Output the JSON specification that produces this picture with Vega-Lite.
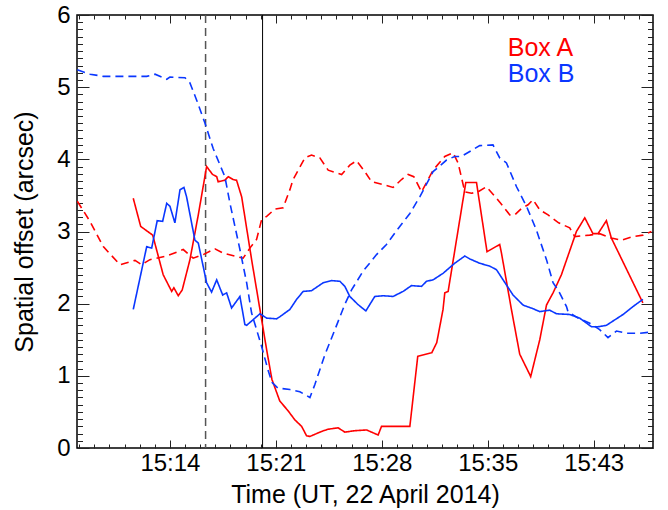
{
  "$schema": "https://vega.github.io/schema/vega-lite/v6.json",
  "width": 576,
  "height": 433,
  "autosize": {"type": "none"},
  "padding": {"left": 77, "top": 15, "right": 15, "bottom": 62},
  "background": "white",
  "config": {
    "view": {"stroke": "#000000", "strokeWidth": 1.5},
    "font": "Liberation Sans",
    "axis": {
      "domain": false,
      "ticks": false,
      "gridColor": "#222222",
      "gridOpacity": 1,
      "gridWidth": 1,
      "labelColor": "#000",
      "titleColor": "#000",
      "labelFont": "Liberation Sans",
      "titleFont": "Liberation Sans",
      "labelFontSize": 24,
      "titleFontSize": 25,
      "titleFontWeight": "normal",
      "labelOverlap": false,
      "labelFlush": false,
      "labelBound": false
    }
  },
  "data": {"values": [
    {"box":"Box A","trace":"2","t":7.66,"v":3.42},{"box":"Box A","trace":"2","t":8.53,"v":3.14},{"box":"Box A","trace":"2","t":9.44,"v":2.79},{"box":"Box A","trace":"2","t":10.58,"v":2.54},{"box":"Box A","trace":"2","t":11.61,"v":2.60},{"box":"Box A","trace":"2","t":12.07,"v":2.54},{"box":"Box A","trace":"2","t":12.63,"v":2.61},{"box":"Box A","trace":"2","t":13.78,"v":2.66},{"box":"Box A","trace":"2","t":14.91,"v":2.75},{"box":"Box A","trace":"2","t":15.59,"v":2.63},{"box":"Box A","trace":"2","t":16.28,"v":2.68},{"box":"Box A","trace":"2","t":17.08,"v":2.76},{"box":"Box A","trace":"2","t":17.65,"v":2.70},{"box":"Box A","trace":"2","t":19.01,"v":2.63},{"box":"Box A","trace":"2","t":19.47,"v":2.77},{"box":"Box A","trace":"2","t":19.93,"v":2.89},{"box":"Box A","trace":"2","t":20.27,"v":3.16},{"box":"Box A","trace":"2","t":20.62,"v":3.21},{"box":"Box A","trace":"2","t":21.18,"v":3.31},{"box":"Box A","trace":"2","t":21.75,"v":3.33},{"box":"Box A","trace":"2","t":22.21,"v":3.58},{"box":"Box A","trace":"2","t":22.43,"v":3.72},{"box":"Box A","trace":"2","t":23.24,"v":4.02},{"box":"Box A","trace":"2","t":23.69,"v":4.06},{"box":"Box A","trace":"2","t":24.26,"v":4.02},{"box":"Box A","trace":"2","t":24.83,"v":3.85},{"box":"Box A","trace":"2","t":25.29,"v":3.82},{"box":"Box A","trace":"2","t":25.75,"v":3.79},{"box":"Box A","trace":"2","t":26.31,"v":3.92},{"box":"Box A","trace":"2","t":26.77,"v":3.98},{"box":"Box A","trace":"2","t":27.34,"v":3.83},{"box":"Box A","trace":"2","t":27.80,"v":3.69},{"box":"Box A","trace":"2","t":28.59,"v":3.65},{"box":"Box A","trace":"2","t":29.27,"v":3.61},{"box":"Box A","trace":"2","t":29.85,"v":3.72},{"box":"Box A","trace":"2","t":30.30,"v":3.79},{"box":"Box A","trace":"2","t":30.69,"v":3.76},{"box":"Box A","trace":"2","t":31.22,"v":3.55},{"box":"Box A","trace":"2","t":32.01,"v":3.85},{"box":"Box A","trace":"2","t":32.81,"v":4.04},{"box":"Box A","trace":"2","t":33.38,"v":4.09},{"box":"Box A","trace":"2","t":33.72,"v":3.95},{"box":"Box A","trace":"2","t":34.18,"v":3.55},{"box":"Box A","trace":"2","t":34.64,"v":3.53},{"box":"Box A","trace":"2","t":35.09,"v":3.55},{"box":"Box A","trace":"2","t":35.66,"v":3.62},{"box":"Box A","trace":"2","t":36.35,"v":3.46},{"box":"Box A","trace":"2","t":36.80,"v":3.35},{"box":"Box A","trace":"2","t":37.26,"v":3.23},{"box":"Box A","trace":"2","t":37.60,"v":3.23},{"box":"Box A","trace":"2","t":38.06,"v":3.32},{"box":"Box A","trace":"2","t":38.51,"v":3.37},{"box":"Box A","trace":"2","t":38.85,"v":3.44},{"box":"Box A","trace":"2","t":39.31,"v":3.30},{"box":"Box A","trace":"2","t":39.88,"v":3.23},{"box":"Box A","trace":"2","t":40.60,"v":3.12},{"box":"Box A","trace":"2","t":41.36,"v":3.05},{"box":"Box A","trace":"2","t":41.70,"v":2.93},{"box":"Box A","trace":"2","t":42.73,"v":2.95},{"box":"Box A","trace":"2","t":43.41,"v":2.97},{"box":"Box A","trace":"2","t":44.21,"v":2.91},{"box":"Box A","trace":"2","t":44.90,"v":2.88},{"box":"Box A","trace":"2","t":45.69,"v":2.93},{"box":"Box A","trace":"2","t":46.37,"v":2.95},{"box":"Box A","trace":"2","t":46.95,"v":3.00},
    {"box":"Box A","trace":"1","t":11.49,"v":3.46},{"box":"Box A","trace":"1","t":12.00,"v":3.07},{"box":"Box A","trace":"1","t":12.82,"v":2.95},{"box":"Box A","trace":"1","t":13.54,"v":2.40},{"box":"Box A","trace":"1","t":14.12,"v":2.17},{"box":"Box A","trace":"1","t":14.27,"v":2.22},{"box":"Box A","trace":"1","t":14.57,"v":2.11},{"box":"Box A","trace":"1","t":14.84,"v":2.19},{"box":"Box A","trace":"1","t":15.37,"v":2.61},{"box":"Box A","trace":"1","t":15.94,"v":3.23},{"box":"Box A","trace":"1","t":16.51,"v":3.90},{"box":"Box A","trace":"1","t":16.92,"v":3.79},{"box":"Box A","trace":"1","t":17.20,"v":3.76},{"box":"Box A","trace":"1","t":17.30,"v":3.69},{"box":"Box A","trace":"1","t":17.76,"v":3.71},{"box":"Box A","trace":"1","t":17.99,"v":3.76},{"box":"Box A","trace":"1","t":18.33,"v":3.72},{"box":"Box A","trace":"1","t":18.56,"v":3.71},{"box":"Box A","trace":"1","t":18.91,"v":3.48},{"box":"Box A","trace":"1","t":19.59,"v":2.61},{"box":"Box A","trace":"1","t":20.16,"v":1.92},{"box":"Box A","trace":"1","t":20.62,"v":1.36},{"box":"Box A","trace":"1","t":20.98,"v":0.95},{"box":"Box A","trace":"1","t":21.52,"v":0.65},{"box":"Box A","trace":"1","t":22.07,"v":0.52},{"box":"Box A","trace":"1","t":22.55,"v":0.39},{"box":"Box A","trace":"1","t":23.01,"v":0.30},{"box":"Box A","trace":"1","t":23.35,"v":0.17},{"box":"Box A","trace":"1","t":23.58,"v":0.16},{"box":"Box A","trace":"1","t":24.38,"v":0.23},{"box":"Box A","trace":"1","t":24.83,"v":0.26},{"box":"Box A","trace":"1","t":25.51,"v":0.28},{"box":"Box A","trace":"1","t":25.97,"v":0.22},{"box":"Box A","trace":"1","t":26.66,"v":0.24},{"box":"Box A","trace":"1","t":27.46,"v":0.25},{"box":"Box A","trace":"1","t":28.25,"v":0.18},{"box":"Box A","trace":"1","t":28.48,"v":0.30},{"box":"Box A","trace":"1","t":28.82,"v":0.30},{"box":"Box A","trace":"1","t":30.42,"v":0.30},{"box":"Box A","trace":"1","t":30.96,"v":1.27},{"box":"Box A","trace":"1","t":31.92,"v":1.32},{"box":"Box A","trace":"1","t":32.26,"v":1.46},{"box":"Box A","trace":"1","t":32.69,"v":1.92},{"box":"Box A","trace":"1","t":32.81,"v":2.15},{"box":"Box A","trace":"1","t":33.04,"v":2.17},{"box":"Box A","trace":"1","t":34.25,"v":3.68},{"box":"Box A","trace":"1","t":34.98,"v":3.68},{"box":"Box A","trace":"1","t":35.70,"v":2.72},{"box":"Box A","trace":"1","t":36.57,"v":2.82},{"box":"Box A","trace":"1","t":36.69,"v":2.70},{"box":"Box A","trace":"1","t":37.37,"v":1.92},{"box":"Box A","trace":"1","t":37.94,"v":1.30},{"box":"Box A","trace":"1","t":38.69,"v":0.99},{"box":"Box A","trace":"1","t":39.31,"v":1.50},{"box":"Box A","trace":"1","t":39.77,"v":1.98},{"box":"Box A","trace":"1","t":40.22,"v":2.15},{"box":"Box A","trace":"1","t":40.79,"v":2.40},{"box":"Box A","trace":"1","t":41.82,"v":3.00},{"box":"Box A","trace":"1","t":42.39,"v":3.19},{"box":"Box A","trace":"1","t":42.95,"v":2.97},{"box":"Box A","trace":"1","t":43.30,"v":2.97},{"box":"Box A","trace":"1","t":43.87,"v":3.15},{"box":"Box A","trace":"1","t":44.21,"v":2.91},{"box":"Box A","trace":"1","t":46.37,"v":2.01},
    {"box":"Box B","trace":"2","t":7.66,"v":5.24},{"box":"Box B","trace":"2","t":8.53,"v":5.18},{"box":"Box B","trace":"2","t":9.44,"v":5.15},{"box":"Box B","trace":"2","t":12.41,"v":5.15},{"box":"Box B","trace":"2","t":12.98,"v":5.18},{"box":"Box B","trace":"2","t":13.78,"v":5.11},{"box":"Box B","trace":"2","t":14.00,"v":5.14},{"box":"Box B","trace":"2","t":15.03,"v":5.13},{"box":"Box B","trace":"2","t":15.37,"v":5.06},{"box":"Box B","trace":"2","t":15.83,"v":4.82},{"box":"Box B","trace":"2","t":16.40,"v":4.50},{"box":"Box B","trace":"2","t":16.96,"v":4.15},{"box":"Box B","trace":"2","t":17.76,"v":3.76},{"box":"Box B","trace":"2","t":18.11,"v":3.39},{"box":"Box B","trace":"2","t":18.79,"v":2.75},{"box":"Box B","trace":"2","t":19.25,"v":2.29},{"box":"Box B","trace":"2","t":19.59,"v":1.87},{"box":"Box B","trace":"2","t":20.27,"v":1.41},{"box":"Box B","trace":"2","t":20.70,"v":1.09},{"box":"Box B","trace":"2","t":20.98,"v":0.91},{"box":"Box B","trace":"2","t":21.39,"v":0.83},{"box":"Box B","trace":"2","t":22.21,"v":0.81},{"box":"Box B","trace":"2","t":22.89,"v":0.78},{"box":"Box B","trace":"2","t":23.58,"v":0.70},{"box":"Box B","trace":"2","t":23.92,"v":0.88},{"box":"Box B","trace":"2","t":24.60,"v":1.29},{"box":"Box B","trace":"2","t":25.29,"v":1.64},{"box":"Box B","trace":"2","t":25.97,"v":1.99},{"box":"Box B","trace":"2","t":26.43,"v":2.19},{"box":"Box B","trace":"2","t":27.22,"v":2.45},{"box":"Box B","trace":"2","t":28.14,"v":2.68},{"box":"Box B","trace":"2","t":28.82,"v":2.82},{"box":"Box B","trace":"2","t":29.73,"v":3.07},{"box":"Box B","trace":"2","t":30.42,"v":3.25},{"box":"Box B","trace":"2","t":31.10,"v":3.48},{"box":"Box B","trace":"2","t":32.01,"v":3.83},{"box":"Box B","trace":"2","t":32.93,"v":3.99},{"box":"Box B","trace":"2","t":33.49,"v":4.04},{"box":"Box B","trace":"2","t":33.95,"v":4.04},{"box":"Box B","trace":"2","t":35.20,"v":4.19},{"box":"Box B","trace":"2","t":36.11,"v":4.20},{"box":"Box B","trace":"2","t":36.57,"v":4.02},{"box":"Box B","trace":"2","t":37.03,"v":3.95},{"box":"Box B","trace":"2","t":37.72,"v":3.62},{"box":"Box B","trace":"2","t":38.40,"v":3.35},{"box":"Box B","trace":"2","t":39.08,"v":3.02},{"box":"Box B","trace":"2","t":39.77,"v":2.61},{"box":"Box B","trace":"2","t":40.22,"v":2.29},{"box":"Box B","trace":"2","t":40.56,"v":2.19},{"box":"Box B","trace":"2","t":40.79,"v":2.10},{"box":"Box B","trace":"2","t":41.14,"v":1.96},{"box":"Box B","trace":"2","t":41.24,"v":1.89},{"box":"Box B","trace":"2","t":41.93,"v":1.80},{"box":"Box B","trace":"2","t":42.73,"v":1.73},{"box":"Box B","trace":"2","t":43.41,"v":1.64},{"box":"Box B","trace":"2","t":43.98,"v":1.53},{"box":"Box B","trace":"2","t":44.56,"v":1.62},{"box":"Box B","trace":"2","t":45.24,"v":1.59},{"box":"Box B","trace":"2","t":46.15,"v":1.59},{"box":"Box B","trace":"2","t":47.06,"v":1.61},
    {"box":"Box B","trace":"1","t":11.49,"v":1.92},{"box":"Box B","trace":"1","t":12.41,"v":2.79},{"box":"Box B","trace":"1","t":12.75,"v":2.77},{"box":"Box B","trace":"1","t":13.13,"v":3.15},{"box":"Box B","trace":"1","t":13.50,"v":3.14},{"box":"Box B","trace":"1","t":13.78,"v":3.39},{"box":"Box B","trace":"1","t":14.00,"v":3.35},{"box":"Box B","trace":"1","t":14.34,"v":3.12},{"box":"Box B","trace":"1","t":14.69,"v":3.58},{"box":"Box B","trace":"1","t":14.96,"v":3.61},{"box":"Box B","trace":"1","t":15.14,"v":3.48},{"box":"Box B","trace":"1","t":15.71,"v":2.88},{"box":"Box B","trace":"1","t":15.94,"v":2.84},{"box":"Box B","trace":"1","t":16.51,"v":2.29},{"box":"Box B","trace":"1","t":16.85,"v":2.16},{"box":"Box B","trace":"1","t":17.20,"v":2.33},{"box":"Box B","trace":"1","t":17.61,"v":2.12},{"box":"Box B","trace":"1","t":17.88,"v":2.15},{"box":"Box B","trace":"1","t":18.22,"v":1.94},{"box":"Box B","trace":"1","t":18.79,"v":2.10},{"box":"Box B","trace":"1","t":19.13,"v":1.71},{"box":"Box B","trace":"1","t":19.25,"v":1.70},{"box":"Box B","trace":"1","t":20.16,"v":1.86},{"box":"Box B","trace":"1","t":20.62,"v":1.80},{"box":"Box B","trace":"1","t":21.30,"v":1.79},{"box":"Box B","trace":"1","t":21.53,"v":1.82},{"box":"Box B","trace":"1","t":22.21,"v":1.92},{"box":"Box B","trace":"1","t":22.67,"v":2.06},{"box":"Box B","trace":"1","t":23.12,"v":2.17},{"box":"Box B","trace":"1","t":23.69,"v":2.18},{"box":"Box B","trace":"1","t":24.49,"v":2.29},{"box":"Box B","trace":"1","t":25.06,"v":2.32},{"box":"Box B","trace":"1","t":25.63,"v":2.31},{"box":"Box B","trace":"1","t":25.97,"v":2.24},{"box":"Box B","trace":"1","t":26.31,"v":2.10},{"box":"Box B","trace":"1","t":26.86,"v":1.99},{"box":"Box B","trace":"1","t":27.41,"v":1.90},{"box":"Box B","trace":"1","t":28.02,"v":2.10},{"box":"Box B","trace":"1","t":28.59,"v":2.11},{"box":"Box B","trace":"1","t":29.27,"v":2.10},{"box":"Box B","trace":"1","t":29.96,"v":2.17},{"box":"Box B","trace":"1","t":30.53,"v":2.25},{"box":"Box B","trace":"1","t":31.22,"v":2.24},{"box":"Box B","trace":"1","t":31.56,"v":2.31},{"box":"Box B","trace":"1","t":32.01,"v":2.33},{"box":"Box B","trace":"1","t":32.69,"v":2.42},{"box":"Box B","trace":"1","t":33.49,"v":2.56},{"box":"Box B","trace":"1","t":34.18,"v":2.66},{"box":"Box B","trace":"1","t":34.52,"v":2.62},{"box":"Box B","trace":"1","t":35.20,"v":2.56},{"box":"Box B","trace":"1","t":35.89,"v":2.52},{"box":"Box B","trace":"1","t":36.35,"v":2.47},{"box":"Box B","trace":"1","t":36.80,"v":2.33},{"box":"Box B","trace":"1","t":37.48,"v":2.12},{"box":"Box B","trace":"1","t":38.17,"v":1.98},{"box":"Box B","trace":"1","t":38.85,"v":1.93},{"box":"Box B","trace":"1","t":39.31,"v":1.89},{"box":"Box B","trace":"1","t":39.99,"v":1.91},{"box":"Box B","trace":"1","t":40.45,"v":1.86},{"box":"Box B","trace":"1","t":41.36,"v":1.85},{"box":"Box B","trace":"1","t":42.04,"v":1.80},{"box":"Box B","trace":"1","t":42.85,"v":1.68},{"box":"Box B","trace":"1","t":43.30,"v":1.68},{"box":"Box B","trace":"1","t":43.87,"v":1.70},{"box":"Box B","trace":"1","t":45.01,"v":1.85},{"box":"Box B","trace":"1","t":45.69,"v":1.96},{"box":"Box B","trace":"1","t":46.37,"v":2.06}
  ]},
  "layer": [
    {
      "data": {"values": [{"t": 16.44}]},
      "mark": {"type": "rule", "color": "#555555", "strokeWidth": 1.5, "strokeDash": [8, 5]},
      "encoding": {
        "x": {"field": "t", "type": "quantitative",
          "scale": {"domain": [7.64, 47.06], "nice": false, "zero": false},
          "axis": null}
      }
    },
    {
      "data": {"values": [{"t": 20.34}]},
      "mark": {"type": "rule", "color": "#000000", "strokeWidth": 1},
      "encoding": {
        "x": {"field": "t", "type": "quantitative", "axis": null}
      }
    },
    {
      "mark": {"type": "line", "strokeWidth": 1.6, "clip": true},
      "encoding": {
        "x": {"field": "t", "type": "quantitative",
          "axis": {
            "orient": "bottom",
            "values": [14, 21.25, 28.5, 35.75, 43],
            "labelExpr": "'15:' + floor(datum.value)",
            "grid": true,
            "gridDash": [8, 417, 8, 100],
            "labelPadding": 3.5,
            "title": "Time (UT, 22 April 2014)",
            "titlePadding": 7
          }
        },
        "y": {"field": "v", "type": "quantitative",
          "scale": {"domain": [0, 6], "nice": false, "zero": false},
          "axis": {
            "orient": "left",
            "values": [0, 1, 2, 3, 4, 5, 6],
            "format": "d",
            "grid": true,
            "gridDash": [12, 552, 12, 100],
            "labelPadding": 7,
            "title": "Spatial offset (arcsec)",
            "titlePadding": 19
          }
        },
        "color": {"field": "box", "type": "nominal",
          "scale": {"domain": ["Box A", "Box B"], "range": ["#ff0000", "#0a37ff"]},
          "legend": null},
        "strokeDash": {"field": "trace", "type": "nominal",
          "scale": {"domain": ["1", "2"], "range": [[1, 0], [8, 5]]},
          "legend": null},
        "detail": {"field": "box"}
      }
    },
    {
      "data": {"values": [{}]},
      "mark": {"type": "text", "text": "Box A", "color": "#ff0000", "fontSize": 25, "align": "left", "baseline": "alphabetic", "font": "Liberation Sans"},
      "encoding": {
        "x": {"datum": 37.12, "type": "quantitative",
          "axis": {
            "orient": "bottom", "labels": false, "title": null,
            "values": [7.7857,8.8214,9.8571,10.8929,11.9286,12.9643,15.0357,16.0714,17.1071,18.1429,19.1786,20.2143,22.2857,23.3214,24.3571,25.3929,26.4286,27.4643,29.5357,30.5714,31.6071,32.6429,33.6786,34.7143,36.7857,37.8214,38.8571,39.8929,40.9286,41.9643,44.0357,45.0714,46.1071],
            "grid": true,
            "gridDash": [4, 425, 4, 100]
          }
        },
        "y": {"datum": 5.43, "type": "quantitative",
          "axis": {
            "orient": "left", "labels": false, "title": null,
            "values": [0.1,0.2,0.3,0.4,0.5,0.6,0.7,0.8,0.9,1.1,1.2,1.3,1.4,1.5,1.6,1.7,1.8,1.9,2.1,2.2,2.3,2.4,2.5,2.6,2.7,2.8,2.9,3.1,3.2,3.3,3.4,3.5,3.6,3.7,3.8,3.9,4.1,4.2,4.3,4.4,4.5,4.6,4.7,4.8,4.9,5.1,5.2,5.3,5.4,5.5,5.6,5.7,5.8,5.9],
            "grid": true,
            "gridDash": [5.5, 565, 5.5, 100]
          }
        }
      }
    },
    {
      "data": {"values": [{}]},
      "mark": {"type": "text", "text": "Box B", "color": "#0a37ff", "fontSize": 25, "align": "left", "baseline": "alphabetic", "font": "Liberation Sans"},
      "encoding": {
        "x": {"datum": 37.12, "type": "quantitative", "axis": null},
        "y": {"datum": 5.07, "type": "quantitative", "axis": null}
      }
    }
  ],
  "resolve": {"axis": {"x": "independent", "y": "independent"}}
}
